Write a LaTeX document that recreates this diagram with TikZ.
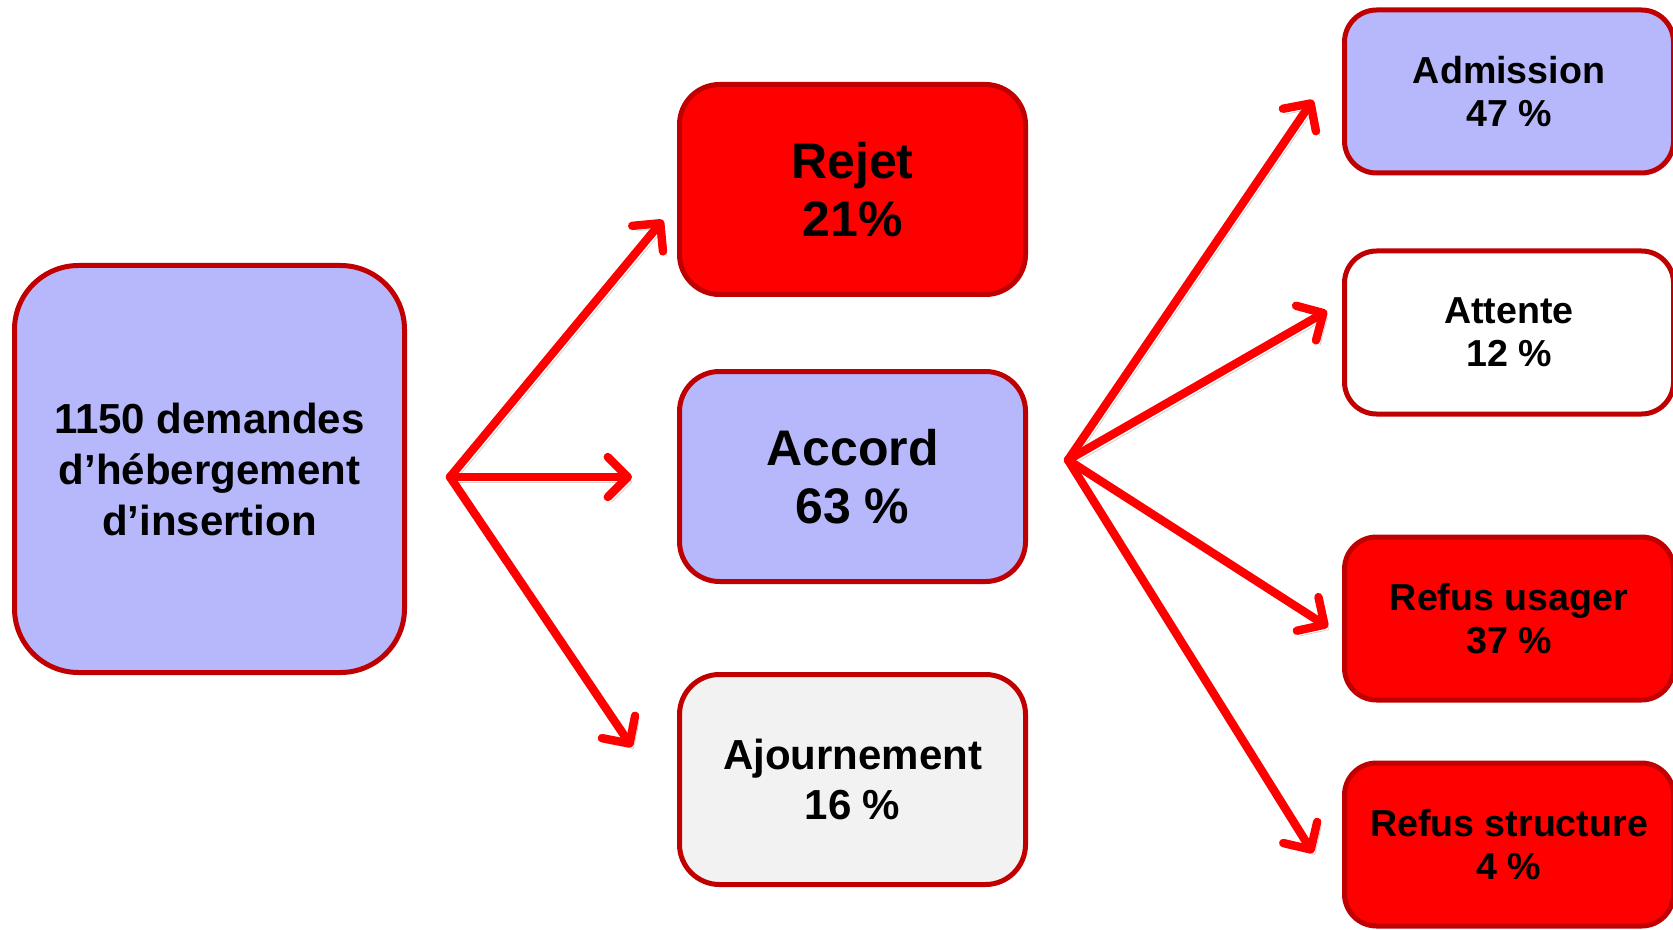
\documentclass[tikz,border=0pt]{standalone}
\usepackage{fontspec}
\setmainfont{Liberation Sans}
\usetikzlibrary{arrows.meta, positioning}

\definecolor{lavande}{RGB}{183,183,251}
\definecolor{bordeau}{RGB}{192,0,0}
\definecolor{grisclair}{RGB}{242,242,242}

\begin{document}
\begin{tikzpicture}[x=0.5pt, y=-0.5pt,
  >={Straight Barb[length=10pt,width=20pt,round]},
  every node/.style={draw=bordeau, line width=2.5pt, align=center, inner sep=0pt},
  src/.style={fill=lavande, rounded corners=32pt, minimum width=195pt, minimum height=203.5pt,
    font=\fontsize{21}{25.5}\selectfont\bfseries},
  mid/.style={rounded corners=20pt, minimum width=173pt, minimum height=105pt,
    font=\fontsize{25}{29}\selectfont\bfseries},
  res/.style={rounded corners=16pt, minimum width=164.5pt, minimum height=81.5pt,
    font=\fontsize{18.8}{21.5}\selectfont\bfseries},
  fleche/.style={->, red, line width=4.2pt, line cap=round,
    preaction={draw=black!60, opacity=0.3, transform canvas={shift={(2pt,-2.5pt)}}}}
 ]
 \useasboundingbox (0,0) rectangle (1673,930);

 \node [src] (demandes) at (209.5,469) {1150 demandes\\d’hébergement\\d’insertion};
 \node [mid, fill=lavande] (accord) at (852.5,476.5) {Accord\\63 \%};
 \node [mid, fill=red, above=36pt of accord] (rejet) {Rejet\\21\%};
 \node [mid, fill=grisclair, below=44pt of accord,
   font=\fontsize{21}{25}\selectfont\bfseries] (ajourn) {Ajournement\\16 \%};

 \node [res, fill=white] (attente) at (1509,332.5) {Attente\\12 \%};
 \node [res, fill=lavande, above=36.5pt of attente] (admission) {Admission\\47 \%};
 \node [res, fill=red, below=59pt of attente] (usager) {Refus usager\\37 \%};
 \node [res, fill=red, below=29pt of usager] (structure) {Refus structure\\4 \%};

 % points de depart et pointes des fleches
 \coordinate (fanL) at (450,477);
 \coordinate (fanR) at (1068,460);
 \coordinate (t-rejet) at (663,220);
 \coordinate (t-accord) at (632,477);
 \coordinate (t-ajourn) at (632,747);
 \coordinate (t-admission) at (1313,100);
 \coordinate (t-attente) at (1327,311);
 \coordinate (t-usager) at (1328,627);
 \coordinate (t-structure) at (1313,853);

 \foreach \cible in {rejet,accord,ajourn}
  \draw [fleche] (fanL) -- (t-\cible);
 \foreach \cible in {admission,attente,usager,structure}
  \draw [fleche] (fanR) -- (t-\cible);
\end{tikzpicture}
\end{document}
